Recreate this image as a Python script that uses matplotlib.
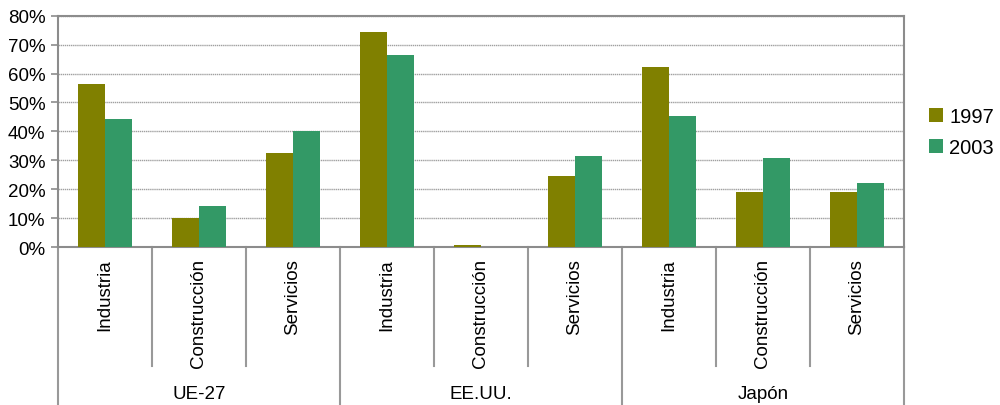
import matplotlib.pyplot as plt
import matplotlib.transforms as mtransforms
import numpy as np

plt.rcParams['font.family'] = ['Liberation Sans', 'DejaVu Sans']

groups = ['UE-27', 'EE.UU.', 'Japón']
sectors = ['Industria', 'Construcción', 'Servicios']
years = ['1997', '2003']
v1997 = [56.2, 10.2, 32.5, 74.2, 0.7, 24.6, 62.2, 18.9, 18.9]
v2003 = [44.4, 14.3, 40.2, 66.3, 0.0, 31.5, 45.3, 30.8, 22.2]
colors = ['#808000', '#339966']
yticks = [0, 10, 20, 30, 40, 50, 60, 70, 80]

fig = plt.figure(figsize=(10, 4.06), dpi=100)
ax = fig.add_axes([0.058, 0.389, 0.846, 0.570])

n = len(v1997)
x = np.arange(n) + 0.5
w = 0.29
ax.bar(x - w / 2, v1997, w, color=colors[0], label=years[0], zorder=3)
ax.bar(x + w / 2, v2003, w, color=colors[1], label=years[1], zorder=3)

ax.set_xlim(0, n)
ax.set_ylim(0, 80)
ax.set_yticks(yticks)
ax.set_yticklabels([f'{t}%' for t in yticks], fontsize=13.5)
ax.set_xticks([])
ax.yaxis.grid(True, color='#a0a0a0', lw=1, ls=(0, (1, 0.5)), zorder=0)
for s in ax.spines.values():
    s.set_color('#8c8c8c')
    s.set_linewidth(1.5)
ax.tick_params(axis='y', length=5, color='#8c8c8c', width=1.2, pad=4)

# category labels and separators below the axis
trans = mtransforms.blended_transform_factory(ax.transData, fig.transFigure)
y_axis = 0.389
y_minor = 1 - 367 / 406
for i in range(n):
    ax.text(x[i], y_axis - 0.027, sectors[i % 3], rotation=90, ha='center', va='top',
            fontsize=13.5, transform=trans)
for i in range(n + 1):
    y_end = 0.0 if i % 3 == 0 else y_minor
    ax.plot([i, i], [y_axis, y_end], color='#999999', lw=1.5, transform=trans,
            clip_on=False)
for g, name in enumerate(groups):
    ax.text(g * 3 + 1.5, 1 - 395 / 406, name, ha='center', va='center',
            fontsize=13.5, transform=trans)

fig.legend(loc='center left', bbox_to_anchor=(0.915, 0.672), frameon=False,
           fontsize=14.5, handlelength=0.7, handleheight=0.7, handletextpad=0.3,
           labelspacing=0.6, borderpad=0.2)

fig.savefig('out.png', dpi=100)
